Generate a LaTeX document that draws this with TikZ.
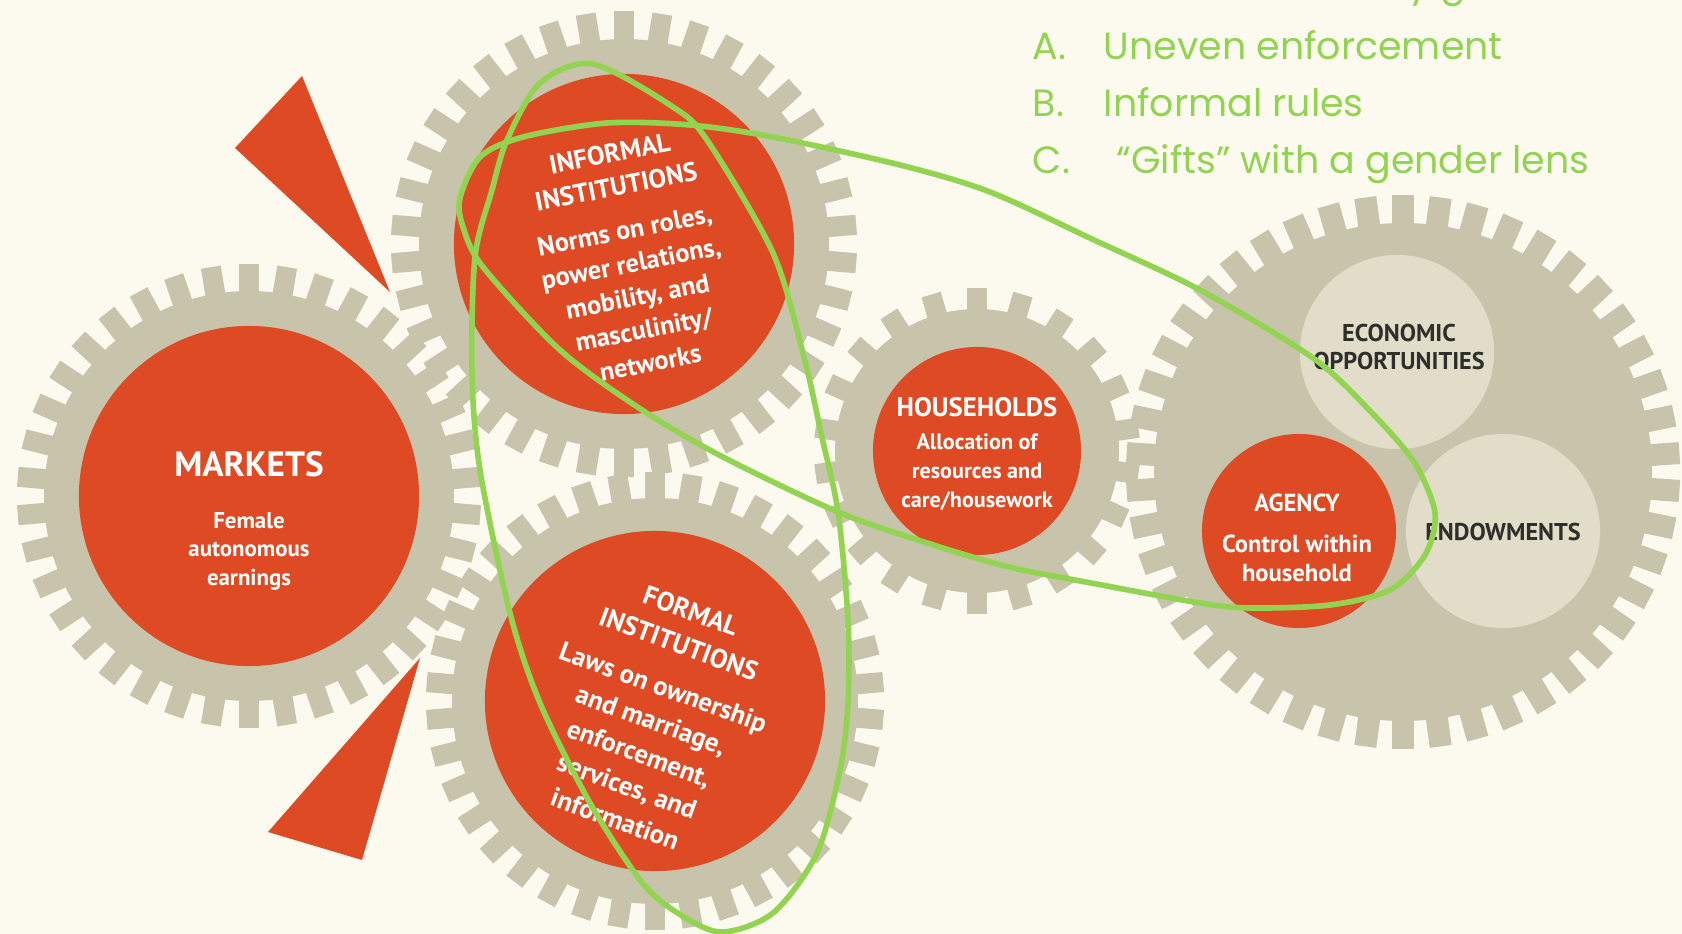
\documentclass[tikz,border=0pt]{standalone}
\usepackage{fontspec}
\newfontfamily\gearfont{PT Sans}
\newfontfamily\listfont{Poppins}

\definecolor{bgcol}{HTML}{FCF9EF}
\definecolor{gearcol}{HTML}{C8C4AB}
\definecolor{pale}{HTML}{E1DDC9}
\definecolor{brick}{HTML}{DE4A24}
\definecolor{lime}{HTML}{92D452}
\definecolor{ink}{HTML}{2E2E2A}

\tikzset{
  redcirc/.style={circle, fill=brick, inner sep=0pt},
  palecirc/.style={circle, fill=pale, inner sep=0pt},
  gtext/.style={align=center, text=white, inner sep=0pt},
  lasso/.style={draw=lime, line width=1.6pt},
  listtext/.style={anchor=base west, text=lime, inner sep=0pt,
    font=\listfont\fontsize{10.8}{13}\selectfont},
}

% gear: x, y, body radius, tip radius, teeth, tooth width
\newcommand{\gearwheel}[6]{%
  \fill[gearcol] (#1,#2) circle (#3);
  \foreach \k in {1,...,#5}
    \fill[gearcol, shift={(#1,#2)}, rotate={\k*(360/#5)}] (-#6/2,#3-6) rectangle (#6/2,#4);
}

\begin{document}
\begin{tikzpicture}[x=0.01cm, y=-0.01cm]
  \useasboundingbox (0,0) rectangle (1682,934);
  \clip (0,0) rectangle (1682,934);
  \fill[bgcol] (0,0) rectangle (1682,934);

  % gear wheels
  \gearwheel{249}{496}{205}{232}{38}{20}
  \gearwheel{624}{244}{205}{233}{38}{20}
  \gearwheel{655}{701}{203}{229}{38}{20}
  \gearwheel{977}{451}{142}{163}{22}{20}
  \gearwheel{1403}{472}{249}{277}{46}{22}

  % discs
  \node[redcirc, minimum size=3.4cm] (markets) at (249,496) {};
  \node[redcirc, minimum size=3.4cm] (informal) at (624,244) {};
  \node[redcirc, minimum size=3.4cm] (formal) at (655,701) {};
  \node[redcirc, minimum size=2.08cm] (households) at (977,451) {};
  \node[palecirc, minimum size=1.94cm] (economic) at (1397,352) {};
  \node[palecirc, minimum size=1.94cm] (endowments) at (1503,531) {};
  \node[redcirc, minimum size=1.94cm] (agency) at (1299,531) {};

  % labels
  \node[gtext, font=\gearfont\bfseries\fontsize{6.5}{8.1}\selectfont] (marketslabel) at (249,521)
    {{\fontsize{10}{12}\selectfont MARKETS}\\[6.5pt]Female\\autonomous\\earnings};
  \node[gtext, rotate=11, font=\gearfont\bfseries\fontsize{7.5}{9.6}\selectfont] (informallabel) at (630,258)
    {INFORMAL\\INSTITUTIONS\\[3pt]Norms on roles,\\power relations,\\mobility, and\\masculinity/\\networks};
  \node[gtext, rotate=-20, font=\gearfont\bfseries\fontsize{7.6}{10}\selectfont] (formallabel) at (653,715)
    {FORMAL\\INSTITUTIONS\\[3pt]Laws on ownership\\and marriage,\\enforcement,\\services, and\\information};
  \node[gtext, font=\gearfont\bfseries\fontsize{6.3}{8.2}\selectfont] (householdslabel) at (977,454)
    {{\fontsize{7.6}{9}\selectfont HOUSEHOLDS}\\[1.2pt]Allocation of\\resources and\\care/housework};
  \node[gtext, font=\gearfont\bfseries\fontsize{7}{8.2}\selectfont] (agencylabel) at (1297,538)
    {{\fontsize{7}{8}\selectfont AGENCY}\\[3.5pt]Control within\\household};
  \node[gtext, text=ink, font=\gearfont\bfseries\fontsize{6.9}{8}\selectfont] (economiclabel) at (1399,347)
    {ECONOMIC\\OPPORTUNITIES};
  \node[gtext, text=ink, font=\gearfont\bfseries\fontsize{6.9}{8}\selectfont] (endowmentslabel) at (1503,532)
    {ENDOWMENTS};

  % wedges
  \fill[brick] (302,76) -- (235,148) -- (390,292) -- cycle;
  \fill[brick] (420,658) -- (268,832) -- (362,860) -- cycle;

  % green loops
  \draw[lasso] plot[smooth cycle] coordinates {
    (593,64) (673,107) (707,140) (773,253) (804,357) (821,433) (838,512)
    (848,620) (848,703) (840,770) (817,853) (773,913) (720,932) (673,910)
    (640,880) (590,803) (540,703) (510,613) (480,470) (472,373) (475,257)
    (492,190) (507,140) (540,83)};
  \draw[lasso] plot[smooth cycle] coordinates {
    (460,198) (480,157) (523,137) (607,123) (690,125) (773,137) (900,165)
    (990,192) (1094,240) (1200,290) (1313,358) (1371,412) (1414,462)
    (1435,513) (1425,555) (1390,590) (1330,605) (1250,608) (1200,603)
    (1091,583) (1009,567) (927,543) (838,512) (723,457) (642,410) (560,350)
    (483,267) (463,227)};

  % list
  \node[listtext] (topline) at (1408,-3) {y g};
  \node[listtext] (itemA) at (1032,60) {A.};
  \node[listtext] (textA) at (1103,60) {Uneven enforcement};
  \node[listtext] (itemB) at (1032,117) {B.};
  \node[listtext] (textB) at (1103,117) {Informal rules};
  \node[listtext] (itemC) at (1032,174) {C.};
  \node[listtext] (textC) at (1116,174) {“Gifts” with a gender lens};
\end{tikzpicture}
\end{document}
